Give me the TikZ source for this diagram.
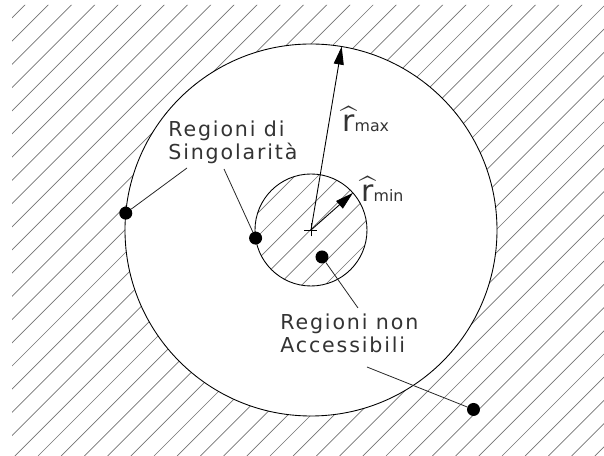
\documentclass[tikz,border=0pt]{standalone}
\usepackage{amsmath}
\usepackage{fontspec}
\setmainfont{DejaVu Sans}
\newfontfamily\cadfont[LetterSpace=9]{DejaVu Sans}
\usetikzlibrary{arrows.meta,calc}
\tikzset{
  lbl/.style={anchor=base west, inner sep=0pt, align=left, text=black!80,
    font=\cadfont\fontsize{11.7}{13.6}\selectfont},
  rlbl/.style={anchor=base west, inner sep=0pt, text=black!80},
  blob/.style={circle, fill=black, inner sep=0pt, minimum size=0.26cm},
  leader/.style={line width=0.45pt, black!85},
}
\newcommand{\rsym}[1]{{\fontsize{17}{17}\selectfont$\widehat{\text{r}}$}{\fontsize{9}{9}\selectfont #1}}
\begin{document}
\begin{tikzpicture}[>={Triangle[length=0.36cm,width=0.2cm]}]
\useasboundingbox (0,0) rectangle (12.08,9.12);
\coordinate (c) at (6.22,4.52);
% hatching outside r_max and inside r_min
\begin{scope}[even odd rule]
  \clip (0.24,0) rectangle (12.08,9.02)
    (c) circle (3.72) (c) circle (1.12);
  \foreach \k in {0,...,44}
    \draw[black!55, line width=0.4pt] ({-8.52+0.464*\k},0) -- ++(9.12,9.12);
\end{scope}
\draw[line width=0.5pt] (c) circle (3.72);
\draw[line width=0.5pt] (c) circle (1.12);
\draw[line width=0.4pt] ($(c)+(-0.13,0)$) -- ++(0.26,0) ($(c)+(0,-0.13)$) -- ++(0,0.26);
% radii
\coordinate (rmaxtip) at ($(c)+(80.5:3.72)$);
\coordinate (rmintip) at ($(c)+(41.5:1.12)$);
\draw[->, line width=0.5pt] (c) -- (rmaxtip);
\draw[->, line width=0.5pt] (c) -- (rmintip);
\node[rlbl] (rmax) at (6.84,6.48) {\rsym{max}};
\node[rlbl] (rmin) at (7.22,5.08) {\rsym{min}};
% points
\node[blob] (p1) at ($(c)+(174.8:3.72)$) {};
\node[blob] (p2) at ($(c)+(188.3:1.12)$) {};
\node[blob] (p3) at (6.44,3.98) {};
\node[blob] (p4) at (9.47,0.93) {};
% labels (anchored on the last line)
\node[lbl] (sing) at (3.36,5.92) {Regioni di\\Singolarità};
\node[lbl] (nonacc) at (5.60,2.06) {Regioni non\\Accessibili};
\coordinate (s1) at (3.74,5.76);
\coordinate (s2) at (4.48,5.74);
\coordinate (n1) at (7.16,2.96);
\coordinate (n2) at (7.34,1.78);
\draw[leader] (p1) -- (s1);
\draw[leader] (p2) -- (s2);
\draw[leader] (p3) -- (n1);
\draw[leader] (p4) -- (n2);
\end{tikzpicture}
\end{document}
